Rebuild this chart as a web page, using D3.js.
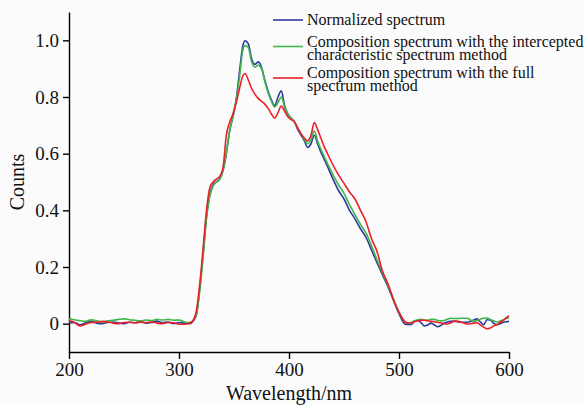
<!DOCTYPE html>
<html>
<head>
<meta charset="utf-8">
<script src="https://cdn.jsdelivr.net/npm/d3@7/dist/d3.min.js"></script>
<style>
  html, body { margin: 0; padding: 0; background: #fbfbfb; }
  svg { display: block; }
  text { font-family: 'Liberation Serif', 'DejaVu Serif', serif; }
  .axis path, .axis line { stroke: #000; stroke-width: 1.4; }
</style>
</head>
<body>
<svg id="chart" width="584" height="405"></svg>
<script>
'use strict';

const FONT = "'Liberation Serif', 'DejaVu Serif', serif";

// wavelength grid (nm), shared by all three series
const wavelengths = [
  200, 205, 210, 215, 220, 225, 230, 235, 240, 245, 250, 255, 260, 265, 270, 275, 280, 285, 290, 295, 300, 305, 310,
  313, 316, 319, 322, 325, 328, 331, 334, 337, 340, 343, 346, 349, 352, 355, 358,
  360, 363, 366, 369, 372, 375, 378, 381, 384, 387, 390, 393, 396, 399, 402, 405, 408, 411, 414, 417, 420, 423, 426, 429, 432, 435,
  440, 445, 450, 455, 460, 465, 470, 475, 480, 485, 490, 495, 500, 505,
  508, 511, 514, 517, 520, 523, 526, 529, 532, 535, 538, 541, 544, 547, 550, 553, 556, 559, 562, 565, 568, 571, 574, 577, 580, 583, 586, 589, 592, 595, 598, 600
];

const normalized = [
  0.002, 0.004, -0.004, 0.003, 0.008, 0.002, 0.0, 0.004, 0.006, 0.003, 0.0, 0.005, 0.003, 0.006, 0.002, 0.004, 0.009, 0.003, 0.006, 0.0, 0.004, 0.002, 0.0,
  0.01, 0.035, 0.13, 0.25, 0.38, 0.455, 0.49, 0.50, 0.51, 0.54, 0.60, 0.68, 0.73, 0.79, 0.89, 0.98,
  0.998, 0.988, 0.935, 0.915, 0.924, 0.905, 0.86, 0.82, 0.79, 0.77, 0.80, 0.822, 0.77, 0.74, 0.725, 0.712, 0.685, 0.665, 0.645, 0.622, 0.635, 0.665, 0.635, 0.605, 0.58, 0.555,
  0.51, 0.47, 0.44, 0.40, 0.37, 0.335, 0.305, 0.26, 0.215, 0.172, 0.13, 0.082, 0.035, 0.0,
  -0.003, -0.003, 0.008, 0.011, 0.004, -0.008, -0.005, 0.002, -0.004, -0.011, -0.006, 0.002, 0.006, 0.008, 0.009, 0.007, 0.005, 0.005, 0.005, 0.008, 0.013, 0.017, 0.006, -0.004, 0.014, 0.013, 0.002, -0.004, 0.0, 0.005, 0.007, 0.008
];

const intercepted = [
  0.016, 0.014, 0.01, 0.008, 0.014, 0.01, 0.006, 0.01, 0.012, 0.015, 0.017, 0.014, 0.012, 0.01, 0.013, 0.011, 0.015, 0.013, 0.015, 0.012, 0.013, 0.006, 0.004,
  0.012, 0.035, 0.12, 0.24, 0.37, 0.45, 0.485, 0.50, 0.51, 0.54, 0.60, 0.68, 0.73, 0.79, 0.87, 0.965,
  0.982, 0.975, 0.925, 0.905, 0.912, 0.90, 0.855, 0.815, 0.785, 0.765, 0.78, 0.80, 0.765, 0.74, 0.725, 0.712, 0.69, 0.67, 0.65, 0.635, 0.65, 0.68, 0.645, 0.615, 0.59, 0.565,
  0.525, 0.49, 0.46, 0.42, 0.385, 0.35, 0.32, 0.275, 0.225, 0.18, 0.135, 0.085, 0.04, 0.008,
  0.002, 0.004, 0.01, 0.014, 0.015, 0.013, 0.012, 0.015, 0.015, 0.012, 0.01, 0.011, 0.016, 0.019, 0.018, 0.018, 0.019, 0.019, 0.019, 0.013, 0.008, 0.011, 0.016, 0.019, 0.02, 0.015, 0.01, 0.006, 0.009, 0.014, 0.019, 0.02
];

const fullSpectrum = [
  0.01, 0.004, -0.008, -0.002, 0.004, 0.005, 0.008, 0.006, 0.002, 0.0, 0.004, 0.005, 0.003, 0.006, 0.004, 0.006, 0.002, 0.0, 0.004, 0.003, -0.002, -0.002, 0.002,
  0.012, 0.05, 0.144, 0.27, 0.40, 0.48, 0.50, 0.51, 0.52, 0.55, 0.665, 0.71, 0.74, 0.78, 0.83, 0.875,
  0.883, 0.86, 0.83, 0.81, 0.795, 0.785, 0.775, 0.76, 0.74, 0.725, 0.745, 0.768, 0.75, 0.73, 0.72, 0.712, 0.69, 0.67, 0.655, 0.645, 0.665, 0.71, 0.685, 0.655, 0.625, 0.60,
  0.56, 0.525, 0.495, 0.465, 0.44, 0.40, 0.36, 0.30, 0.255, 0.185, 0.14, 0.085, 0.04, 0.008,
  0.002, 0.003, 0.007, 0.01, 0.012, 0.012, 0.01, 0.008, 0.007, 0.005, 0.003, 0.0, -0.001, 0.003, 0.008, 0.009, 0.006, 0.002, -0.001, 0.0, 0.002, 0.003, -0.004, -0.012, -0.018, -0.015, -0.008, -0.003, 0.005, 0.013, 0.022, 0.027
];

const xTicks = [200, 300, 400, 500, 600];
const yTicks = [0, 0.2, 0.4, 0.6, 0.8, 1.0];

const seriesNames = [
  ['Normalized spectrum'],
  ['Composition spectrum with the intercepted', 'characteristic spectrum method'],
  ['Composition spectrum with the full', 'spectrum method']
];
const seriesColors = ['#2e3c9e', '#3fb54a', '#ec1f26'];
const seriesValues = [normalized, intercepted, fullSpectrum];

const margin = { top: 12, left: 69, right: 75, bottom: 53 };
const width = 584, height = 405;

const svg = d3.select('#chart');
const x = d3.scaleLinear().domain([200, 600]).range([margin.left, width - margin.right]);
const y = d3.scaleLinear().domain([-0.1, 1.1]).range([height - margin.bottom, margin.top]);

// axes
const xAxis = svg.append('g')
  .attr('class', 'axis')
  .attr('transform', 'translate(0,' + (height - margin.bottom) + ')')
  .call(d3.axisBottom(x).tickValues(xTicks).tickSize(7).tickSizeOuter(0).tickPadding(4).tickFormat(d3.format('d')));

const yAxis = svg.append('g')
  .attr('class', 'axis')
  .attr('transform', 'translate(' + margin.left + ',0)')
  .call(d3.axisLeft(y).tickValues(yTicks).tickSize(6).tickSizeOuter(0).tickPadding(4)
    .tickFormat(d => (d === 0 ? '0' : d3.format('.1f')(d))));

[xAxis, yAxis].forEach(g => {
  g.attr('font-family', FONT).attr('font-size', 19);
  g.selectAll('text').attr('fill', '#111').style('font-family', FONT).style('font-size', '19px');
});

// axis titles
svg.append('text')
  .attr('x', x(400))
  .attr('y', 400)
  .attr('text-anchor', 'middle')
  .style('font-family', FONT)
  .style('font-size', '20px')
  .attr('fill', '#111')
  .text('Wavelength/nm');

svg.append('text')
  .attr('transform', 'translate(24,' + y(0.5) + ') rotate(-90)')
  .attr('text-anchor', 'middle')
  .style('font-family', FONT)
  .style('font-size', '20px')
  .attr('fill', '#111')
  .text('Counts');

// lines
const line = d3.line()
  .x((d, i) => x(wavelengths[i]))
  .y(d => y(d))
  .curve(d3.curveMonotoneX);

seriesValues.forEach((vals, i) => {
  svg.append('path')
    .datum(vals)
    .attr('fill', 'none')
    .attr('stroke', seriesColors[i])
    .attr('stroke-width', 1.6)
    .attr('stroke-linejoin', 'round')
    .attr('d', line);
});

// legend
const legendLineY = [20, 46.5, 78];
const legendTextY = [25, 47, 78];
const legend = svg.append('g');
seriesNames.forEach((lines, i) => {
  legend.append('line')
    .attr('x1', 273).attr('x2', 303)
    .attr('y1', legendLineY[i]).attr('y2', legendLineY[i])
    .attr('stroke', seriesColors[i])
    .attr('stroke-width', 1.6);
  lines.forEach((t, j) => {
    legend.append('text')
      .attr('x', 307)
      .attr('y', legendTextY[i] + j * 12.5)
      .style('font-family', FONT)
      .style('font-size', '16px')
      .attr('fill', '#111')
      .text(t);
  });
});
</script>
</body>
</html>
